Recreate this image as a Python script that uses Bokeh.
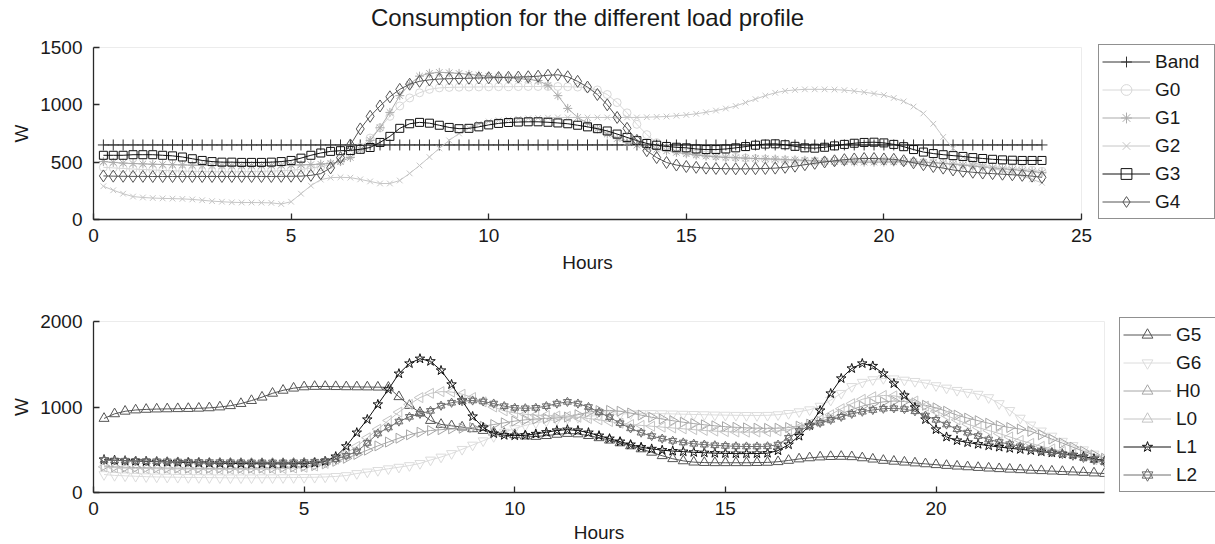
import math
from bokeh.layouts import column
from bokeh.models import FixedTicker, Legend, LegendItem, LinearAxis, Range1d
from bokeh.plotting import figure
from bokeh.embed import file_html
from bokeh.resources import INLINE

FONT = "Liberation Sans"
TITLE = "Consumption for the different load profile"
X_LABEL = "Hours"
Y_LABEL = "W"

# quarter-hour time grid 0.25 ... 24.0
HOURS = [q / 4 for q in range(1, 97)]

TOP_XTICKS = [0, 5, 10, 15, 20, 25]
TOP_YTICKS = [0, 500, 1000, 1500]
BOT_XTICKS = [0, 5, 10, 15, 20]
BOT_YTICKS = [0, 1000, 2000]

# ---------------- upper panel (W) ----------------
BAND = [650] * 96

G0 = [455, 450, 445, 440, 436, 432, 428, 425,
      422, 420, 418, 417, 416, 416, 417, 418,
      420, 422, 425, 430, 437, 447, 460, 480,
      510, 560, 630, 710, 800, 900, 990, 1060,
      1105, 1135, 1148, 1152, 1154, 1155, 1156, 1157,
      1158, 1158, 1159, 1160, 1160, 1160, 1160, 1158,
      1155, 1148, 1130, 1090, 1020, 930, 830, 740,
      670, 625, 600, 585, 572, 562, 555, 548,
      542, 536, 530, 525, 520, 516, 513, 511,
      510, 509, 509, 510, 511, 512, 512, 511,
      509, 506, 502, 498, 494, 490, 486, 482,
      477, 470, 462, 454, 446, 438, 430, 420]

G1 = [505, 498, 492, 488, 485, 482, 480, 478,
      476, 474, 472, 471, 470, 469, 469, 470,
      470, 471, 472, 474, 476, 479, 483, 490,
      505, 540, 610, 690, 800, 934, 1080, 1180,
      1250, 1275, 1283, 1280, 1274, 1266, 1258, 1250,
      1243, 1236, 1229, 1222, 1212, 1170, 1080, 969,
      890, 840, 790, 745, 705, 672, 648, 628,
      612, 598, 585, 573, 562, 553, 546, 541,
      538, 535, 532, 530, 527, 524, 520, 516,
      512, 508, 505, 503, 501, 500, 500, 501,
      502, 503, 502, 500, 496, 490, 482, 474,
      466, 458, 450, 442, 435, 427, 418, 408]

G2 = [290, 255, 225, 200, 192, 187, 184, 182,
      180, 175, 168, 160, 155, 150, 148, 148,
      147, 145, 135, 155, 225, 295, 348, 365,
      368, 365, 350, 332, 314, 314, 340, 402,
      471, 545, 620, 690, 750, 800, 835, 855,
      865, 872, 878, 882, 885, 888, 890, 890,
      890, 890, 890, 890, 890, 890, 890, 892,
      895, 898, 905, 912, 922, 935, 950, 968,
      990, 1020, 1050, 1080, 1105, 1122, 1130, 1135,
      1135, 1135, 1133, 1128, 1120, 1110, 1098, 1085,
      1060, 1030, 985, 925, 835, 720, 620, 545,
      500, 470, 445, 425, 405, 380, 350, 320]

G3 = [560, 560, 560, 565, 565, 565, 560, 555,
      545, 530, 515, 505, 500, 500, 498, 498,
      498, 500, 505, 515, 535, 560, 580, 594,
      600, 602, 612, 628, 672, 725, 795, 835,
      847, 840, 822, 803, 792, 795, 808, 825,
      838, 846, 850, 852, 852, 848, 842, 835,
      822, 808, 792, 772, 745, 716, 688, 663,
      648, 637, 630, 625, 615, 610, 610, 615,
      625, 636, 648, 658, 660, 652, 638, 625,
      622, 630, 642, 655, 665, 672, 674, 668,
      655, 635, 610, 588, 575, 565, 557, 550,
      540, 532, 525, 520, 517, 515, 515, 515]

G4 = [380, 378, 377, 376, 376, 375, 375, 375,
      375, 375, 375, 375, 375, 375, 375, 375,
      375, 375, 376, 377, 378, 385, 400, 450,
      540, 650, 790, 900, 990, 1070, 1135, 1180,
      1205, 1218, 1225, 1228, 1230, 1232, 1234, 1236,
      1238, 1240, 1242, 1245, 1250, 1258, 1262, 1245,
      1205, 1155, 1090, 1000, 890, 795, 690, 600,
      540, 497, 475, 462, 455, 448, 445, 443,
      442, 442, 443, 445, 448, 455, 465, 478,
      490, 502, 512, 522, 528, 532, 532, 528,
      525, 512, 495, 478, 462, 448, 432, 420,
      412, 405, 400, 395, 390, 385, 378, 368]

# ---------------- lower panel (W) ----------------
G5 = [866, 920, 950, 965, 972, 976, 978, 980,
      982, 985, 990, 1000, 1015, 1040, 1075, 1115,
      1160, 1195, 1220, 1235, 1240, 1240, 1238, 1236,
      1235, 1234, 1232, 1230, 1120, 1018, 936, 842,
      796, 780, 765, 745, 725, 705, 690, 675,
      660, 655, 665, 680, 690, 685, 665, 640,
      612, 580, 545, 510, 470, 430, 395, 370,
      355, 350, 348, 348, 348, 348, 350, 352,
      360, 375, 392, 405, 415, 420, 422, 418,
      405, 390, 375, 365, 355, 345, 335, 325,
      316, 308, 300, 292, 285, 278, 272, 266,
      260, 255, 250, 245, 240, 235, 228, 222]

G6 = [210, 200, 195, 190, 185, 182, 180, 178,
      176, 175, 174, 173, 172, 172, 172, 173,
      173, 174, 175, 176, 178, 182, 188, 198,
      222, 240, 258, 278, 296, 315, 340, 380,
      415, 456, 505, 555, 605, 655, 705, 748,
      785, 815, 835, 850, 865, 878, 890, 903,
      912, 918, 922, 924, 924, 922, 919, 916,
      913, 910, 907, 905, 903, 902, 901, 903,
      910, 925, 945, 968, 1010, 1080, 1160, 1240,
      1290, 1320, 1334, 1330, 1315, 1300, 1280, 1250,
      1222, 1195, 1172, 1150, 1110, 1040, 960, 870,
      790, 720, 660, 600, 550, 500, 450, 400]

H0 = [310, 300, 295, 292, 290, 288, 286, 285,
      284, 283, 282, 282, 282, 283, 284, 286,
      288, 292, 298, 305, 315, 335, 365, 400,
      445, 495, 545, 590, 635, 675, 705, 725,
      735, 745, 752, 760, 775, 795, 815, 835,
      850, 860, 866, 872, 882, 910, 940, 958,
      960, 950, 930, 905, 880, 860, 840, 822,
      806, 792, 780, 770, 762, 756, 752, 750,
      752, 760, 776, 800, 830, 870, 920, 970,
      1010, 1040, 1060, 1070, 1065, 1048, 1020, 990,
      950, 905, 870, 840, 810, 782, 760, 742,
      715, 675, 625, 578, 530, 482, 440, 400]

L0 = [300, 290, 285, 282, 280, 278, 276, 275,
      274, 273, 272, 272, 272, 272, 273, 274,
      276, 280, 286, 295, 310, 340, 390, 460,
      540, 640, 740, 842, 940, 1030, 1110, 1160,
      1180, 1175, 1150, 1111, 1060, 1000, 955, 930,
      915, 905, 900, 895, 890, 880, 865, 850,
      830, 810, 795, 785, 775, 765, 755, 745,
      735, 725, 718, 712, 708, 706, 708, 712,
      720, 735, 760, 800, 850, 910, 980, 1040,
      1090, 1120, 1135, 1130, 1110, 1070, 1010, 950,
      900, 850, 800, 760, 725, 690, 650, 610,
      575, 540, 510, 480, 450, 420, 385, 350]

L1 = [385, 378, 372, 368, 364, 360, 357, 354,
      350, 347, 344, 342, 340, 338, 337, 336,
      335, 335, 336, 338, 345, 365, 420, 540,
      700, 854, 1030, 1205, 1390, 1509, 1565, 1535,
      1427, 1264, 1076, 889, 760, 690, 670, 665,
      670, 685, 705, 725, 735, 725, 700, 665,
      630, 595, 560, 530, 510, 495, 485, 478,
      470, 465, 460, 457, 455, 455, 456, 460,
      490, 560, 660, 784, 959, 1158, 1334, 1451,
      1509, 1480, 1392, 1275, 1135, 995, 854, 737,
      650, 608, 585, 565, 548, 532, 518, 505,
      492, 478, 465, 452, 440, 420, 395, 370]

L2 = [380, 375, 372, 370, 368, 366, 364, 362,
      360, 358, 356, 355, 354, 353, 352, 352,
      352, 352, 353, 355, 360, 370, 390, 430,
      480, 580, 690, 760, 830, 885, 920, 955,
      1015, 1050, 1068, 1076, 1065, 1040, 1010, 990,
      985, 990, 1010, 1040, 1060, 1040, 1000, 940,
      880, 810, 750, 700, 660, 630, 605, 585,
      570, 560, 552, 545, 540, 538, 538, 540,
      560, 640, 720, 780, 815, 850, 885, 920,
      945, 965, 980, 985, 975, 950, 900, 850,
      795, 740, 700, 660, 620, 590, 565, 540,
      515, 490, 470, 450, 430, 405, 380, 355]

TEXT_COLOR = "#1a1a1a"
AXIS_COLOR = "#2a2a2a"


def base_fig(fw, fh, bl, bt, br, bb, xr, yr, xt, yt, tick_standoff, label_standoff):
    p = figure(frame_width=fw, frame_height=fh,
               x_range=Range1d(*xr), y_range=Range1d(*yr),
               output_backend="svg", toolbar_location=None,
               min_border_left=bl, min_border_top=bt,
               min_border_right=br, min_border_bottom=bb,
               background_fill_color="white", border_fill_color="white",
               outline_line_color="#ececec")
    p.grid.visible = False
    for ax, ticks in ((p.xaxis[0], xt), (p.yaxis[0], yt)):
        ax.ticker = FixedTicker(ticks=ticks)
        ax.minor_tick_line_color = None
        ax.major_tick_in = 6
        ax.major_tick_out = 0
        ax.axis_line_color = AXIS_COLOR
        ax.axis_line_width = 1.3
        ax.major_tick_line_color = AXIS_COLOR
        ax.major_tick_line_width = 1.3
        ax.major_label_text_font = FONT
        ax.major_label_text_font_size = "19px"
        ax.major_label_text_color = TEXT_COLOR
        ax.axis_label_text_font = FONT
        ax.axis_label_text_font_size = "19px"
        ax.axis_label_text_font_style = "normal"
        ax.axis_label_text_color = TEXT_COLOR
    p.xaxis[0].major_label_standoff = tick_standoff
    p.xaxis[0].axis_label = X_LABEL
    p.xaxis[0].axis_label_standoff = label_standoff
    p.yaxis[0].major_label_standoff = 11
    p.yaxis[0].axis_label = Y_LABEL
    p.yaxis[0].axis_label_standoff = 5
    return p


def series(p, y, name, color, markers, size, angle=0.0, lw=1.0):
    rends = [p.line(HOURS, y, line_color=color, line_width=lw)]
    for m in markers:
        rends.append(p.scatter(HOURS, y, marker=m, size=size, angle=angle,
                               line_color=color, fill_color=None, line_width=lw))
    return LegendItem(label=name, renderers=rends)


def make_legend(items, offset, label_width):
    return Legend(items=items, location=(offset, 0), margin=0, padding=3,
                  spacing=1, glyph_width=48, glyph_height=27, label_height=27,
                  label_width=label_width, label_standoff=5,
                  label_text_font=FONT, label_text_font_size="19px",
                  label_text_color=TEXT_COLOR,
                  border_line_color="#222222", border_line_width=1.3,
                  background_fill_color="white", background_fill_alpha=1.0)


# ---------------- top figure ----------------
top = base_fig(988, 172, 93, 47, 134, 66, (0, 25), (0, 1500),
               TOP_XTICKS, TOP_YTICKS, 9, 7)
# title drawn as the label of a bare axis above the frame
title_axis = LinearAxis(ticker=FixedTicker(ticks=[]), axis_label=TITLE,
                        axis_line_color=None, major_tick_line_color=None,
                        minor_tick_line_color=None, major_tick_in=0,
                        major_tick_out=0, major_label_standoff=0,
                        axis_label_standoff=17,
                        axis_label_text_font=FONT,
                        axis_label_text_font_size="24px",
                        axis_label_text_font_style="normal",
                        axis_label_text_color=TEXT_COLOR)
top.add_layout(title_axis, "above")

items_top = [
    series(top, BAND, "Band", "#333333", ["cross"], 11),
    series(top, G0, "G0", "#d8d8d8", ["circle"], 8),
    series(top, G1, "G1", "#ababab", ["asterisk"], 9),
    series(top, G2, "G2", "#c6c6c6", ["x"], 8),
    series(top, G3, "G3", "#111111", ["square"], 8),
    series(top, G4, "G4", "#555555", ["diamond"], 12),
]
top.add_layout(make_legend(items_top, 17, 56), "right")

# ---------------- bottom figure ----------------
bot = base_fig(1011, 171, 93, 36, 111, 52, (0, 24), (0, 2000),
               BOT_XTICKS, BOT_YTICKS, 9, 4)
items_bot = [
    series(bot, G5, "G5", "#555555", ["triangle"], 10),
    series(bot, G6, "G6", "#dcdcdc", ["inverted_triangle"], 10),
    series(bot, H0, "H0", "#a6a6a6", ["triangle"], 10, angle=-math.pi / 2),
    series(bot, L0, "L0", "#c4c4c4", ["triangle"], 10, angle=math.pi / 2),
    series(bot, L1, "L1", "#111111", ["star"], 10),
    series(bot, L2, "L2", "#6e6e6e", ["triangle", "inverted_triangle"], 8),
]
bot.add_layout(make_legend(items_bot, 15, 48), "right")

layout = column(top, bot)
open("out.html", "w").write(file_html(layout, INLINE))
